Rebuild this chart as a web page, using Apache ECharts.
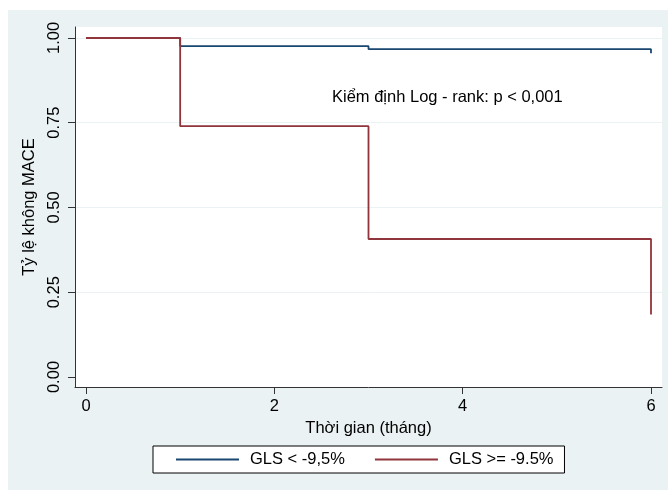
<!DOCTYPE html>
<html>
<head>
<meta charset="utf-8">
<script src="https://cdn.jsdelivr.net/npm/echarts@6/dist/echarts.min.js"></script>
<style>
  html, body { margin: 0; padding: 0; background: #fff; }
  #wrap { position: relative; width: 668px; height: 490px; }
  #bg { position: absolute; left: 8px; top: 10px; right: 0; bottom: 0; background: #eaf2f3; }
  #chart { position: absolute; left: 0; top: 0; width: 668px; height: 490px; }
</style>
</head>
<body>
<div id="wrap"><div id="bg"></div><div id="chart"></div></div>
<script>
// Kaplan-Meier step points (month, survival free of MACE)
const lowTimes = [0, 1, 3, 6];
const lowSurv = [1.0, 0.976, 0.967, 0.955];
const highTimes = [0, 1, 3, 6];
const highSurv = [1.0, 0.74, 0.407, 0.184];
const seriesNames = ["GLS < -9,5%", "GLS >= -9.5%"];
const xTicks = [0, 2, 4, 6];
const yTicks = [0, 0.25, 0.5, 0.75, 1];
const yGridTicks = [0.25, 0.5, 0.75, 1];
const note = "Kiểm định Log - rank: p < 0,001";

const font = "Liberation Sans, Arial, sans-serif";
const fs = 16.5;
const pair = (xs, ys) => xs.map((x, i) => [x, ys[i]]);

const chart = echarts.init(document.getElementById("chart"));
chart.setOption({
  animation: false,
  backgroundColor: "transparent",
  textStyle: { fontFamily: font },
  grid: {
    left: 75, top: 27, width: 587, height: 360,
    show: true, backgroundColor: "#fff", borderWidth: 0,
  },
  xAxis: {
    type: "value",
    min: -0.1168, max: 6.1168,
    name: "Thời gian (tháng)",
    nameLocation: "middle",
    nameGap: 29,
    nameTextStyle: { fontSize: fs, color: "#000", fontFamily: font },
    axisLine: { onZero: false, lineStyle: { color: "#333", width: 1 } },
    axisTick: { length: 7, lineStyle: { color: "#333" }, customValues: xTicks },
    axisLabel: { fontSize: fs, color: "#000", margin: 11, customValues: xTicks },
    splitLine: { show: false },
  },
  yAxis: [{
    type: "value",
    min: -0.0295, max: 1.0324,
    name: "Tỷ lệ không MACE",
    nameLocation: "middle",
    nameRotate: 90,
    nameGap: 36,
    nameTextStyle: { fontSize: fs, color: "#000", fontFamily: font },
    axisLine: { show: true, onZero: false, lineStyle: { color: "#333", width: 1 } },
    axisTick: { show: true, length: 7, lineStyle: { color: "#333" }, customValues: yTicks },
    axisLabel: {
      fontSize: fs, color: "#000", rotate: 90, margin: 12,
      customValues: yTicks,
      formatter: (v) => v.toFixed(2),
    },
    splitLine: { show: false },
  }, {
    type: "value",
    min: -0.0295, max: 1.0324,
    position: "left",
    axisLine: { show: false },
    axisLabel: { show: false },
    axisTick: { show: false, customValues: yGridTicks },
    splitLine: { show: true, lineStyle: { color: "#eaf2f3", width: 1 } },
  }],
  legend: {
    left: 153, top: 446,
    padding: [5, 11, 5, 23],
    itemGap: 30,
    itemWidth: 63, itemHeight: 2,
    icon: "rect",
    borderColor: "#000", borderWidth: 1,
    backgroundColor: "#fff",
    textStyle: { fontSize: fs, color: "#000", padding: [0, 0, 0, 6] },
    data: seriesNames,
  },
  graphic: [{
    type: "text",
    left: 332, top: 89,
    style: { text: note, font: fs + "px " + font, fill: "#000" },
  }],
  series: [{
    name: seriesNames[0],
    type: "line",
    step: "end",
    showSymbol: false,
    color: "#1a476f",
    lineStyle: { width: 1.8, color: "#1a476f" },
    data: pair(lowTimes, lowSurv),
  }, {
    name: seriesNames[1],
    type: "line",
    step: "end",
    showSymbol: false,
    color: "#90353b",
    lineStyle: { width: 1.8, color: "#90353b" },
    data: pair(highTimes, highSurv),
  }],
});
</script>
</body>
</html>
